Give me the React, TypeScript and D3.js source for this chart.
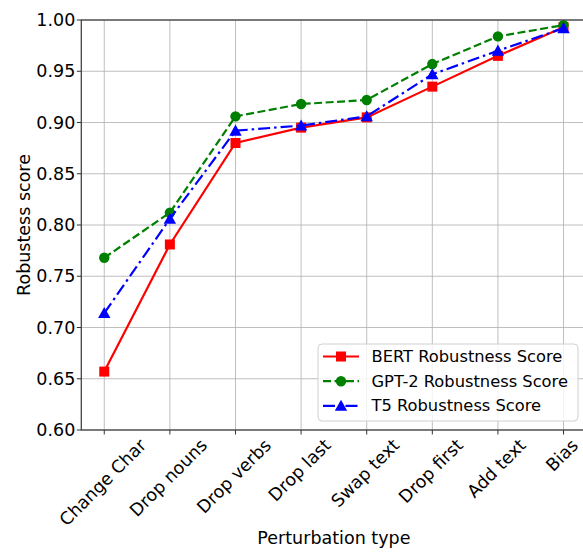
import React, { useEffect, useRef } from "react";
import * as d3 from "d3";

const categories = ["Change Char", "Drop nouns", "Drop verbs", "Drop last", "Swap text", "Drop first", "Add text", "Bias"];
const bertScores = [0.657, 0.781, 0.88, 0.895, 0.905, 0.935, 0.965, 0.993];
const gpt2Scores = [0.768, 0.812, 0.906, 0.918, 0.922, 0.957, 0.984, 0.995];
const t5Scores = [0.714, 0.806, 0.892, 0.897, 0.906, 0.947, 0.97, 0.992];
const yTicks = [0.6, 0.65, 0.7, 0.75, 0.8, 0.85, 0.9, 0.95, 1.0];
const seriesNames = ["BERT Robustness Score", "GPT-2 Robustness Score", "T5 Robustness Score"];
const seriesColors = ["#ff0000", "#008000", "#0000ff"];
const seriesDash = ["none", "8,3.5", "12,4,2.5,4"];
const seriesMarkers = ["square", "circle", "triangle"];

const W = 583;
const H = 552;
const FONT = "DejaVu Sans, sans-serif";
const TICK_FS = 17.5;
const LEGEND_FS = 16.3;

function drawMarker(g: any, kind: string, x: number, y: number, color: string) {
  if (kind === "square") {
    g.append("rect").attr("x", x - 5).attr("y", y - 5).attr("width", 10).attr("height", 10).attr("fill", color);
  } else if (kind === "circle") {
    g.append("circle").attr("cx", x).attr("cy", y).attr("r", 5.2).attr("fill", color);
  } else {
    const s = 6.2;
    g.append("path")
      .attr("d", `M${x},${y - s} L${x + s},${y + s * 0.8} L${x - s},${y + s * 0.8} Z`)
      .attr("fill", color);
  }
}

export default function App() {
  const ref = useRef<SVGSVGElement>(null);
  useEffect(() => {
    const svg = d3.select(ref.current);
    svg.selectAll("*").remove();
    const left = 81.3, right = 586.5, top = 20, bottom = 430;
    const x = d3.scaleLinear().domain([-0.35, categories.length - 1 + 0.35]).range([left, right]);
    const y = d3.scaleLinear().domain([0.6, 1.0]).range([bottom, top]);

    // grid
    const grid = svg.append("g");
    categories.forEach((_, i) => {
      grid.append("line").attr("x1", x(i)).attr("x2", x(i)).attr("y1", top).attr("y2", bottom)
        .attr("stroke", "#b0b0b0").attr("stroke-width", 1).attr("opacity", 0.8);
    });
    yTicks.forEach((t) => {
      grid.append("line").attr("x1", left).attr("x2", right).attr("y1", y(t)).attr("y2", y(t))
        .attr("stroke", "#b0b0b0").attr("stroke-width", 1).attr("opacity", 0.8);
    });

    // series
    const all = [bertScores, gpt2Scores, t5Scores];
    all.forEach((vals, si) => {
      const line = d3.line<number>().x((_, i) => x(i)).y((d) => y(d));
      svg.append("path").attr("d", line(vals) as string).attr("fill", "none")
        .attr("stroke", seriesColors[si]).attr("stroke-width", 2.2)
        .attr("stroke-dasharray", seriesDash[si]);
      const mg = svg.append("g");
      vals.forEach((v, i) => drawMarker(mg, seriesMarkers[si], x(i), y(v), seriesColors[si]));
    });

    // spines
    svg.append("rect").attr("x", left).attr("y", top).attr("width", right - left).attr("height", bottom - top)
      .attr("fill", "none").attr("stroke", "#444").attr("stroke-width", 1.3);

    // y ticks
    yTicks.forEach((t) => {
      svg.append("line").attr("x1", left - 4.5).attr("x2", left).attr("y1", y(t)).attr("y2", y(t))
        .attr("stroke", "#333").attr("stroke-width", 1);
      svg.append("text").attr("x", left - 6).attr("y", y(t)).attr("text-anchor", "end")
        .attr("dominant-baseline", "central").attr("font-family", FONT).attr("font-size", TICK_FS)
        .attr("fill", "#000").text(t.toFixed(2));
    });

    // x ticks
    categories.forEach((c, i) => {
      svg.append("line").attr("x1", x(i)).attr("x2", x(i)).attr("y1", bottom).attr("y2", bottom + 4.5)
        .attr("stroke", "#333").attr("stroke-width", 1);
      const t = svg.append("text").attr("text-anchor", "middle").attr("dominant-baseline", "central")
        .attr("font-family", FONT).attr("font-size", TICK_FS).attr("fill", "#000").text(c);
      const w = (t.node() as SVGTextElement).getComputedTextLength();
      const cy = 436 + (w + TICK_FS) * Math.SQRT1_2 / 2;
      t.attr("transform", `translate(${x(i) - 1.5},${cy}) rotate(-45)`);
    });

    // axis labels
    svg.append("text").attr("x", (left + right) / 2).attr("y", 544).attr("text-anchor", "middle")
      .attr("font-family", FONT).attr("font-size", TICK_FS).attr("fill", "#000").text("Perturbation type");
    svg.append("text").attr("transform", `translate(23.5,${(top + bottom) / 2}) rotate(-90)`)
      .attr("text-anchor", "middle").attr("dominant-baseline", "central")
      .attr("font-family", FONT).attr("font-size", TICK_FS).attr("fill", "#000")
      .text("Robustess score");

    // legend
    const lg = svg.append("g");
    lg.append("rect").attr("x", 318).attr("y", 344).attr("width", 260).attr("height", 77).attr("rx", 4)
      .attr("fill", "white").attr("fill-opacity", 0.8).attr("stroke", "#d0d0d0").attr("stroke-width", 1);
    seriesNames.forEach((name, si) => {
      const ly = 356.5 + si * 24.7;
      lg.append("line").attr("x1", 323).attr("x2", 359).attr("y1", ly).attr("y2", ly)
        .attr("stroke", seriesColors[si]).attr("stroke-width", 2.2).attr("stroke-dasharray", seriesDash[si]);
      drawMarker(lg, seriesMarkers[si], 341, ly, seriesColors[si]);
      lg.append("text").attr("x", 371.5).attr("y", ly).attr("dominant-baseline", "central")
        .attr("font-family", FONT).attr("font-size", LEGEND_FS).attr("fill", "#000").text(name);
    });
  }, []);
  return (
    <svg ref={ref} width={W} height={H} style={{ position: "absolute", left: 0, top: 0, background: "white" }} />
  );
}
